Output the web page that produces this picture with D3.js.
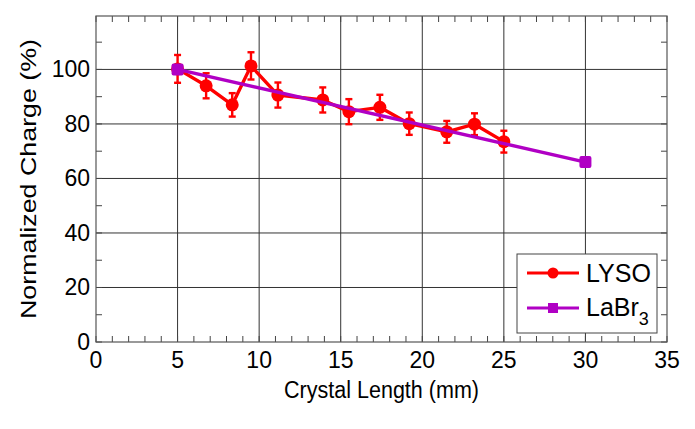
<!DOCTYPE html>
<html><head><meta charset="utf-8">
<script src="https://cdn.jsdelivr.net/npm/d3@7"></script>
<style>
html,body{margin:0;padding:0;background:#fff;}
text{font-family:"Liberation Sans",Arial,sans-serif;fill:#000;}
</style></head>
<body>
<svg id="chart" width="695" height="429"></svg>
<script>
const lysoX = [5, 6.75, 8.35, 9.5, 11.15, 13.9, 15.5, 17.4, 19.2, 21.5, 23.2, 25];
const lysoY = [100.2, 94.0, 87.0, 101.3, 90.6, 88.8, 84.5, 86.1, 80.1, 77.1, 79.9, 73.5];
const lysoErr = [5.1, 4.6, 4.3, 5.0, 4.6, 4.6, 4.6, 4.6, 4.1, 4.0, 4.0, 4.0];
const labrX = [5, 30];
const labrY = [100, 66];
const xTicks = [0, 5, 10, 15, 20, 25, 30, 35];
const yTicks = [0, 20, 40, 60, 80, 100];
const seriesNames = ["LYSO", "LaBr"];

const RED = "#ff0000", PURPLE = "#b000c4";
const svg = d3.select("#chart");
const L = 96, R = 667, T = 16, B = 342;
const x = d3.scaleLinear().domain([0, 35]).range([L, R]);
const y = d3.scaleLinear().domain([0, 119.6]).range([B, T]);

// grid
const g = svg.append("g");
g.selectAll(".gx").data(xTicks.filter(d => d > 0 && d < 35)).enter().append("line")
  .attr("x1", d => x(d)).attr("x2", d => x(d)).attr("y1", T).attr("y2", B)
  .attr("stroke", "#333").attr("stroke-width", 1);
g.selectAll(".gy").data(yTicks.filter(d => d > 0)).enter().append("line")
  .attr("x1", L).attr("x2", R).attr("y1", d => y(d)).attr("y2", d => y(d))
  .attr("stroke", "#333").attr("stroke-width", 1);

// minor ticks
const xMinor = d3.range(0, 36, 1);
const yMinor = d3.range(0, 120, 10);
const tk = 6;
g.selectAll(".tb").data(xMinor).enter().append("line")
  .attr("x1", d => x(d)).attr("x2", d => x(d)).attr("y1", B).attr("y2", B - tk)
  .attr("stroke", "#444").attr("stroke-width", 1);
g.selectAll(".tt").data(xMinor).enter().append("line")
  .attr("x1", d => x(d)).attr("x2", d => x(d)).attr("y1", T).attr("y2", T + tk)
  .attr("stroke", "#444").attr("stroke-width", 1);
g.selectAll(".tl").data(yMinor).enter().append("line")
  .attr("x1", L).attr("x2", L + tk).attr("y1", d => y(d)).attr("y2", d => y(d))
  .attr("stroke", "#444").attr("stroke-width", 1);
g.selectAll(".tr").data(yMinor).enter().append("line")
  .attr("x1", R).attr("x2", R - tk).attr("y1", d => y(d)).attr("y2", d => y(d))
  .attr("stroke", "#444").attr("stroke-width", 1);

// frame
svg.append("rect").attr("x", L).attr("y", T).attr("width", R - L).attr("height", B - T)
  .attr("fill", "none").attr("stroke", "#555").attr("stroke-width", 1.2);

// tick labels
svg.selectAll(".xl").data(xTicks).enter().append("text")
  .attr("x", d => x(d)).attr("y", 368).attr("text-anchor", "middle")
  .attr("font-size", 23).text(d => d);
svg.selectAll(".yl").data(yTicks).enter().append("text")
  .attr("x", 90).attr("y", d => y(d) + 8).attr("text-anchor", "end")
  .attr("font-size", 23).text(d => d);

// axis titles
svg.append("text").attr("x", (L + R) / 2).attr("y", 398).attr("text-anchor", "middle")
  .attr("font-size", 23).attr("textLength", 195).attr("lengthAdjust", "spacingAndGlyphs")
  .text("Crystal Length (mm)");
svg.append("text").attr("transform", `translate(36,${(T + B) / 2}) rotate(-90)`)
  .attr("text-anchor", "middle").attr("font-size", 22.5)
  .attr("textLength", 280).attr("lengthAdjust", "spacingAndGlyphs")
  .text("Normalized Charge (%)");

// LYSO series
const lyso = lysoX.map((d, i) => ({x: d, y: lysoY[i], e: lysoErr[i]}));
const line = d3.line().x(d => x(d.x)).y(d => y(d.y));
svg.append("path").datum(lyso).attr("d", line).attr("fill", "none")
  .attr("stroke", RED).attr("stroke-width", 3.4).attr("stroke-linejoin", "round");
const eb = svg.append("g").attr("stroke", RED).attr("stroke-width", 2.4);
lyso.forEach(d => {
  eb.append("line").attr("x1", x(d.x)).attr("x2", x(d.x)).attr("y1", y(d.y - d.e)).attr("y2", y(d.y + d.e));
  eb.append("line").attr("x1", x(d.x) - 3.5).attr("x2", x(d.x) + 3.5).attr("y1", y(d.y - d.e)).attr("y2", y(d.y - d.e));
  eb.append("line").attr("x1", x(d.x) - 3.5).attr("x2", x(d.x) + 3.5).attr("y1", y(d.y + d.e)).attr("y2", y(d.y + d.e));
});
svg.selectAll(".lc").data(lyso).enter().append("circle")
  .attr("cx", d => x(d.x)).attr("cy", d => y(d.y)).attr("r", 6.5).attr("fill", RED);

// LaBr3 series
const labr = labrX.map((d, i) => ({x: d, y: labrY[i]}));
svg.append("path").datum(labr).attr("d", line).attr("fill", "none")
  .attr("stroke", PURPLE).attr("stroke-width", 3.4);
svg.selectAll(".ls").data(labr).enter().append("rect")
  .attr("x", d => x(d.x) - 6).attr("y", d => y(d.y) - 6).attr("width", 12).attr("height", 12)
  .attr("rx", 2).attr("fill", PURPLE);

// legend
const lg = svg.append("g");
lg.append("rect").attr("x", 517).attr("y", 254).attr("width", 140).attr("height", 79)
  .attr("fill", "#fff").attr("stroke", "#444").attr("stroke-width", 1);
lg.append("line").attr("x1", 527).attr("x2", 579).attr("y1", 273).attr("y2", 273)
  .attr("stroke", RED).attr("stroke-width", 3);
lg.append("circle").attr("cx", 553).attr("cy", 273).attr("r", 5.5).attr("fill", RED);
lg.append("line").attr("x1", 527).attr("x2", 579).attr("y1", 308).attr("y2", 308)
  .attr("stroke", PURPLE).attr("stroke-width", 3);
lg.append("rect").attr("x", 548).attr("y", 303).attr("width", 10).attr("height", 10).attr("fill", PURPLE);
lg.append("text").attr("x", 586).attr("y", 282).attr("font-size", 25).text(seriesNames[0]);
const t2 = lg.append("text").attr("x", 586).attr("y", 316).attr("font-size", 25);
t2.append("tspan").text(seriesNames[1]);
t2.append("tspan").attr("font-size", 18).attr("dy", 9).text("3");
</script>
</body></html>
